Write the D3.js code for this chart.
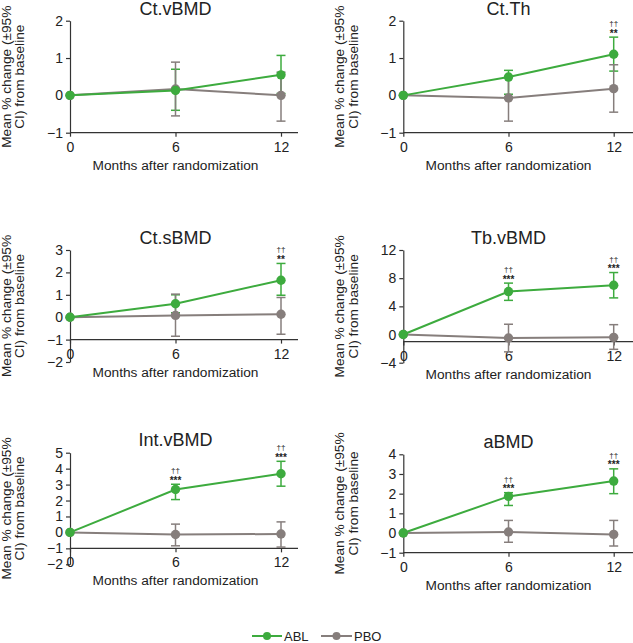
<!DOCTYPE html>
<html>
<head>
<meta charset="utf-8">
<script src="https://cdn.jsdelivr.net/npm/d3@7"></script>
<style>
  body { margin: 0; background: #fff; }
  text { font-family: Arial, "Liberation Sans", sans-serif; }
</style>
</head>
<body>
<svg id="chart" width="633" height="643"></svg>
<script>
// Data
var months = [0, 6, 12];
var seriesNames = ["ABL", "PBO"];

var titles = ["Ct.vBMD", "Ct.Th", "Ct.sBMD", "Tb.vBMD", "Int.vBMD", "aBMD"];
var yTicks = [
  [-1, 0, 1, 2],
  [-1, 0, 1, 2],
  [-2, -1, 0, 1, 2, 3],
  [-4, 0, 4, 8, 12],
  [-2, -1, 0, 1, 2, 3, 4, 5],
  [-1, 0, 1, 2, 3, 4]
];

var ablMean = [[0, 0.13, 0.55], [0, 0.49, 1.1], [0, 0.6, 1.65], [0, 6.1, 7.0], [0, 2.69, 3.68], [0, 1.86, 2.64]];
var ablLow  = [[0, -0.4, 0.05], [0, 0.03, 0.65], [0, 0.2, 0.98], [0, 4.85, 5.2], [0, 2.06, 2.9], [0, 1.4, 2.0]];
var ablHigh = [[0, 0.7, 1.07], [0, 0.67, 1.56], [0, 1.0, 2.4], [0, 7.3, 8.8], [0, 3.02, 4.46], [0, 2.05, 3.26]];

var pboMean = [[0, 0.17, 0], [0, -0.07, 0.18], [0, 0.08, 0.13], [0, -0.5, -0.4], [0, -0.13, -0.1], [0, 0.05, -0.07]];
var pboLow  = [[0, -0.55, -0.69], [0, -0.69, -0.45], [0, -0.85, -0.76], [0, -2.46, -2.1], [0, -0.84, -0.92], [0, -0.47, -0.66]];
var pboHigh = [[0, 0.89, 0.62], [0, 0.5, 0.82], [0, 1.03, 0.88], [0, 1.46, 1.4], [0, 0.52, 0.66], [0, 0.64, 0.64]];

// significance vs PBO (daggers) and vs baseline (asterisks), per month
var sigDagger = [["", "", ""], ["", "", "††"], ["", "", "††"], ["", "††", "††"], ["", "††", "††"], ["", "††", "††"]];
var sigStar   = [["", "", ""], ["", "", "**"], ["", "", "**"], ["", "***", "***"], ["", "***", "***"], ["", "***", "***"]];

// Layout (pixels)
var panels = [
  { x0: 70, x12: 281, xEnd: 298, yTop: 20.7, yBot: 132.7 },
  { x0: 403.3, x12: 613.7, xEnd: 640, yTop: 20.7, yBot: 132.7 },
  { x0: 70, x12: 281, xEnd: 298, yTop: 250, yBot: 362 },
  { x0: 403.3, x12: 613.7, xEnd: 640, yTop: 250, yBot: 362.7 },
  { x0: 70, x12: 281, xEnd: 298, yTop: 452.7, yBot: 564.3 },
  { x0: 403.3, x12: 613.7, xEnd: 640, yTop: 454.3, yBot: 552.7 }
];

var green = "#3dab3e";
var grey = "#867e7c";
var axisColor = "#333";

var svg = d3.select("#chart");

titles.forEach(function(title, i) {
  var p = panels[i];
  var ticks = yTicks[i];
  var g = svg.append("g").attr("class", "panel");

  var x = d3.scaleLinear().domain([0, 12]).range([p.x0, p.x12]);
  var y = d3.scaleLinear().domain([ticks[0], ticks[ticks.length - 1]]).range([p.yBot, p.yTop]);
  var yCross = y(-1);

  // y axis
  var ya = g.append("g")
    .attr("transform", "translate(" + p.x0 + ",0)")
    .call(d3.axisLeft(y).tickValues(ticks).tickSize(4).tickSizeOuter(0).tickPadding(3).tickFormat(d3.format("d")));
  ya.selectAll("text").style("font-size", "14px").attr("fill", "#222");
  ya.selectAll("line, path").attr("stroke", axisColor).attr("stroke-width", 1.2);

  // x axis crossing at -1
  var xa = g.append("g")
    .attr("transform", "translate(0," + yCross + ")")
    .call(d3.axisBottom(x).tickValues(months).tickSize(4).tickPadding(5));
  xa.select(".domain").remove();
  xa.selectAll("text").style("font-size", "14px").attr("fill", "#222");
  xa.selectAll("line").attr("stroke", axisColor).attr("stroke-width", 1.2);
  g.append("line")
    .attr("x1", p.x0).attr("x2", p.xEnd)
    .attr("y1", yCross).attr("y2", yCross)
    .attr("stroke", axisColor).attr("stroke-width", 1.2);

  // titles
  g.append("text")
    .attr("x", x(6)).attr("y", Math.max(p.yTop - 6.5, 14.5))
    .attr("text-anchor", "middle")
    .style("font-size", "18px").attr("fill", "#222")
    .text(title);

  g.append("text")
    .attr("x", x(6)).attr("y", yCross + 37)
    .attr("text-anchor", "middle")
    .style("font-size", "13.7px").attr("fill", "#222")
    .text("Months after randomization");

  var yMid = (p.yTop + p.yBot) / 2;
  var yt = g.append("text")
    .attr("transform", "translate(" + (p.x0 - 59) + "," + yMid + ") rotate(-90)")
    .attr("text-anchor", "middle")
    .style("font-size", "13.7px").attr("fill", "#222");
  yt.append("tspan").attr("x", 0).attr("y", 0).text("Mean % change (±95%");
  yt.append("tspan").attr("x", 0).attr("y", 13.3).text("CI) from baseline");

  var series = [
    { name: "ABL", mean: ablMean[i], lo: ablLow[i], hi: ablHigh[i], color: green },
    { name: "PBO", mean: pboMean[i], lo: pboLow[i], hi: pboHigh[i], color: grey }
  ];

  // error bars (ABL first, PBO over it)
  series.forEach(function(s) {
    var eb = g.append("g").attr("stroke", s.color).attr("stroke-width", 1.5);
    months.forEach(function(m, j) {
      if (j === 0) return;
      eb.append("line").attr("x1", x(m)).attr("x2", x(m)).attr("y1", y(s.lo[j])).attr("y2", y(s.hi[j]));
      [s.lo[j], s.hi[j]].forEach(function(v) {
        eb.append("line").attr("x1", x(m) - 4.5).attr("x2", x(m) + 4.5).attr("y1", y(v)).attr("y2", y(v));
      });
    });
  });

  // lines and points (PBO below, ABL on top)
  var line = d3.line().x(function(d, j) { return x(months[j]); }).y(function(d) { return y(d); });
  series.slice().reverse().forEach(function(s) {
    g.append("path").datum(s.mean)
      .attr("d", line).attr("fill", "none")
      .attr("stroke", s.color).attr("stroke-width", 2);
    g.selectAll(null).data(s.mean).enter().append("circle")
      .attr("cx", function(d, j) { return x(months[j]); })
      .attr("cy", function(d) { return y(d); })
      .attr("r", 4.7).attr("fill", s.color);
  });

  // significance marks above ABL upper CI
  months.forEach(function(m, j) {
    var top = y(ablHigh[i][j]);
    if (sigStar[i][j]) {
      g.append("text").attr("x", x(m)).attr("y", top - 0.5)
        .attr("text-anchor", "middle").style("font-size", "10px").style("font-weight", "bold")
        .attr("fill", "#222").text(sigStar[i][j]);
    }
    if (sigDagger[i][j]) {
      g.append("text").attr("x", x(m)).attr("y", top - 11)
        .attr("text-anchor", "middle").style("font-size", "8px")
        .attr("fill", "#222").text(sigDagger[i][j]);
    }
  });
});

// legend
var legend = [
  { name: seriesNames[0], color: green, x1: 252, x2: 282 },
  { name: seriesNames[1], color: grey, x1: 321, x2: 352 }
];
legend.forEach(function(l) {
  var lg = svg.append("g");
  lg.append("line").attr("x1", l.x1).attr("x2", l.x2).attr("y1", 636).attr("y2", 636)
    .attr("stroke", l.color).attr("stroke-width", 2);
  lg.append("circle").attr("cx", (l.x1 + l.x2) / 2).attr("cy", 636).attr("r", 4).attr("fill", l.color);
  lg.append("text").attr("x", l.x2 + 2).attr("y", 640.5).style("font-size", "13px").attr("fill", "#222").text(l.name);
});
</script>
</body>
</html>
